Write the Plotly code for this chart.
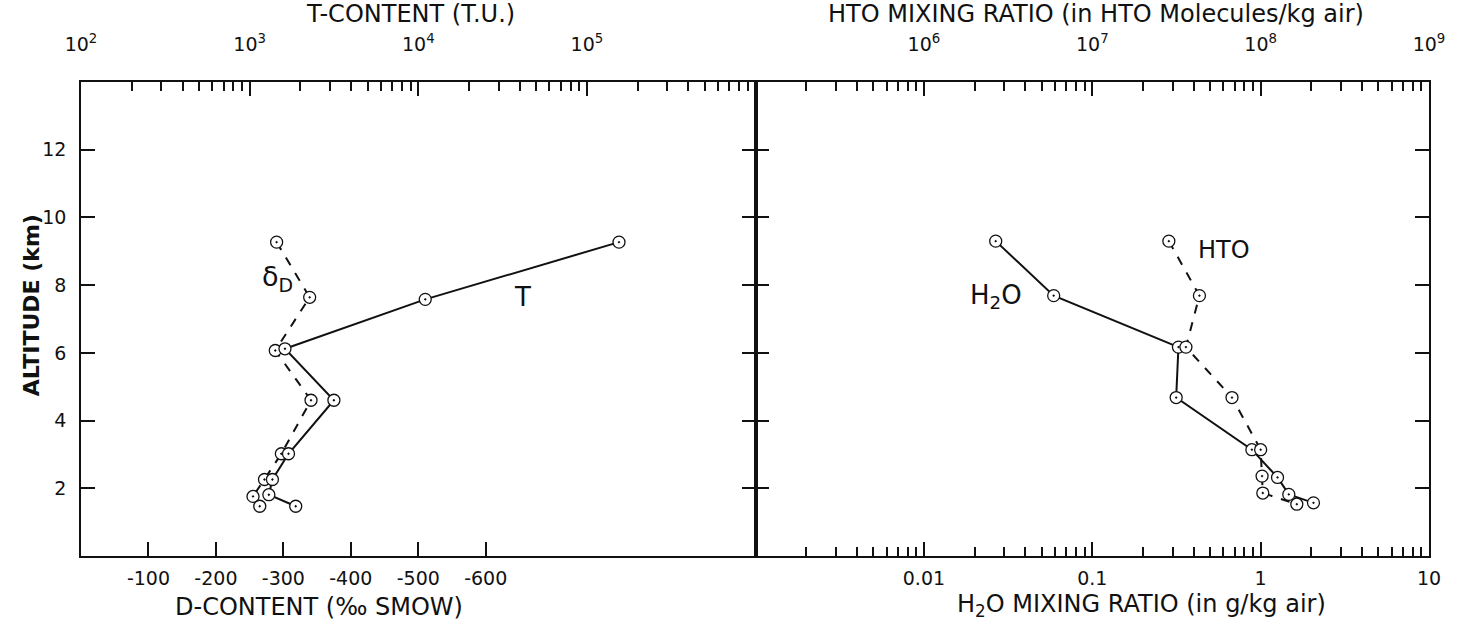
import plotly.graph_objects as go

# ---------------- data ----------------
# Left panel: altitude (km), T-content (T.U.) and D-content (permil SMOW)
alt_T = [9.27, 7.58, 6.12, 4.60, 3.02, 2.26, 1.81, 1.47]
t_content = [155000, 11000, 1620, 3160, 1700, 1365, 1300, 1876]
alt_D = [9.27, 7.64, 6.07, 4.60, 3.02, 2.26, 1.76, 1.47]
d_content = [-290, -339, -288, -341, -297, -272, -255, -265]

# Right panel: altitude (km), H2O mixing ratio (g/kg air) and HTO (molecules/kg air)
alt_H2O = [9.30, 7.69, 6.17, 4.68, 3.14, 2.32, 1.82, 1.57]
h2o_ratio = [0.0267, 0.059, 0.325, 0.315, 0.887, 1.26, 1.47, 2.06]
alt_HTO = [9.30, 7.69, 6.17, 4.68, 3.14, 2.36, 1.86, 1.53]
hto_ratio = [2.85e7, 4.33e7, 3.6e7, 6.76e7, 1.0e8, 1.02e8, 1.03e8, 1.64e8]

# tick labels
alt_ticks = [2, 4, 6, 8, 10, 12]
d_ticks = [-100, -200, -300, -400, -500, -600]
d_ticktext = ["-100", "-200", "-300", "-400", "-500", "-600"]
t_ticks = [1e2, 1e3, 1e4, 1e5]
t_ticktext = ["10<sup>2</sup>", "10<sup>3</sup>", "10<sup>4</sup>", "10<sup>5</sup>"]
hto_ticks = [1e6, 1e7, 1e8, 1e9]
hto_ticktext = ["10<sup>6</sup>", "10<sup>7</sup>", "10<sup>8</sup>", "10<sup>9</sup>"]
h2o_ticks = [0.01, 0.1, 1, 10]
h2o_ticktext = ["0.01", "0.1", "1", "10"]

INK = "#111111"
FONT = "DejaVu Sans"

def minor_vals(e0, e1):
    return [k * 10.0 ** e for e in range(e0, e1) for k in range(2, 10)]

marker = dict(symbol="circle-dot", size=12, color="white",
              line=dict(color=INK, width=1.3))

fig = go.Figure()
fig.add_trace(go.Scatter(x=d_content, y=alt_D, xaxis="x", yaxis="y",
                         mode="lines+markers",
                         line=dict(color=INK, width=2, dash="dash"),
                         marker=marker, hoverinfo="skip"))
fig.add_trace(go.Scatter(x=t_content, y=alt_T, xaxis="x2", yaxis="y",
                         mode="lines+markers",
                         line=dict(color=INK, width=2),
                         marker=marker, hoverinfo="skip"))
fig.add_trace(go.Scatter(x=hto_ratio, y=alt_HTO, xaxis="x4", yaxis="y2",
                         mode="lines+markers",
                         line=dict(color=INK, width=2, dash="dash"),
                         marker=marker, hoverinfo="skip"))
fig.add_trace(go.Scatter(x=h2o_ratio, y=alt_H2O, xaxis="x3", yaxis="y2",
                         mode="lines+markers",
                         line=dict(color=INK, width=2),
                         marker=marker, hoverinfo="skip"))

split = 0.5004
tickfont = dict(family=FONT, size=19, color=INK)
common = dict(showgrid=False, zeroline=False, showline=True, linecolor=INK,
              linewidth=1.7, ticks="inside", tickcolor=INK, tickwidth=1.5,
              tickfont=tickfont)
minor_style = dict(ticks="inside", ticklen=9, tickwidth=1.5, tickcolor=INK)

fig.update_layout(
    width=1457, height=631,
    margin=dict(l=81, r=23, t=82, b=75),
    paper_bgcolor="white", plot_bgcolor="white",
    showlegend=False,
    xaxis=dict(domain=[0, split], anchor="y", range=[0, -1000],
               tickvals=d_ticks, ticktext=d_ticktext, ticklen=14,
               ticklabelstandoff=4, **common),
    xaxis2=dict(type="log", range=[2, 6], side="top", overlaying="x",
                anchor="y", tickvals=t_ticks, ticktext=t_ticktext,
                ticklen=14, ticklabelstandoff=22,
                minor=dict(tickvals=minor_vals(2, 6), **minor_style),
                **common),
    xaxis3=dict(domain=[split, 1], anchor="y2", type="log", range=[-3, 1],
                tickvals=h2o_ticks, ticktext=h2o_ticktext,
                ticklen=14, ticklabelstandoff=4,
                minor=dict(tickvals=minor_vals(-3, 1), **minor_style),
                **common),
    xaxis4=dict(type="log", range=[5, 9], side="top", overlaying="x3",
                anchor="y2", tickvals=hto_ticks, ticktext=hto_ticktext,
                ticklen=14, ticklabelstandoff=22,
                minor=dict(tickvals=minor_vals(5, 9), **minor_style),
                **common),
    yaxis=dict(domain=[0, 1], anchor="x", range=[0, 14], tickvals=alt_ticks,
               ticklen=14, mirror="ticks", ticklabelstandoff=9, **common),
    yaxis2=dict(domain=[0, 1], anchor="x3", range=[0, 14], tickvals=alt_ticks,
                ticklen=14, mirror="ticks", showticklabels=False, **common),
)

PW, PH = 1353.0, 474.0   # plot area in pixels: left 81, top 82
def px(xp):
    return (xp - 81) / PW
def py(yp):
    return (556 - yp) / PH

title_font = dict(family=FONT, size=24, color=INK)
ann = [
    dict(text="T-CONTENT (T.U.)", x=px(412), y=py(14), font=title_font),
    dict(text="HTO MIXING RATIO (in HTO Molecules/kg air)", x=px(1100),
         y=py(14), font=title_font),
    dict(text="D-CONTENT (‰ SMOW)", x=px(320), y=py(607), font=title_font),
    dict(text="H<sub>2</sub>O MIXING RATIO (in g/kg air)", x=px(1145),
         y=py(605), font=title_font),
    dict(text="<b>ALTITUDE (km)</b>", x=px(31), y=py(305), textangle=-90,
         font=dict(family=FONT, size=22, color=INK)),
]
for a in ann:
    a.update(xref="paper", yref="paper", showarrow=False,
             xanchor="center", yanchor="middle")

ann += [
    dict(text="δ<sub>D</sub>", xref="x", yref="y", x=-292, y=8.2,
         showarrow=False, font=dict(family=FONT, size=27, color=INK)),
    dict(text="T", xref="x2", yref="y", x=4.62, y=7.65,
         showarrow=False, font=dict(family=FONT, size=26, color=INK)),
    dict(text="H<sub>2</sub>O", xref="x3", yref="y2", x=-1.57, y=7.65,
         showarrow=False, font=dict(family=FONT, size=26, color=INK)),
    dict(text="HTO", xref="x4", yref="y2", x=7.78, y=9.05,
         showarrow=False, font=dict(family=FONT, size=24, color=INK)),
]
fig.update_layout(annotations=ann)

fig.write_html("out.html", config={"displayModeBar": False},
               post_script="document.body.style.margin='0';")
